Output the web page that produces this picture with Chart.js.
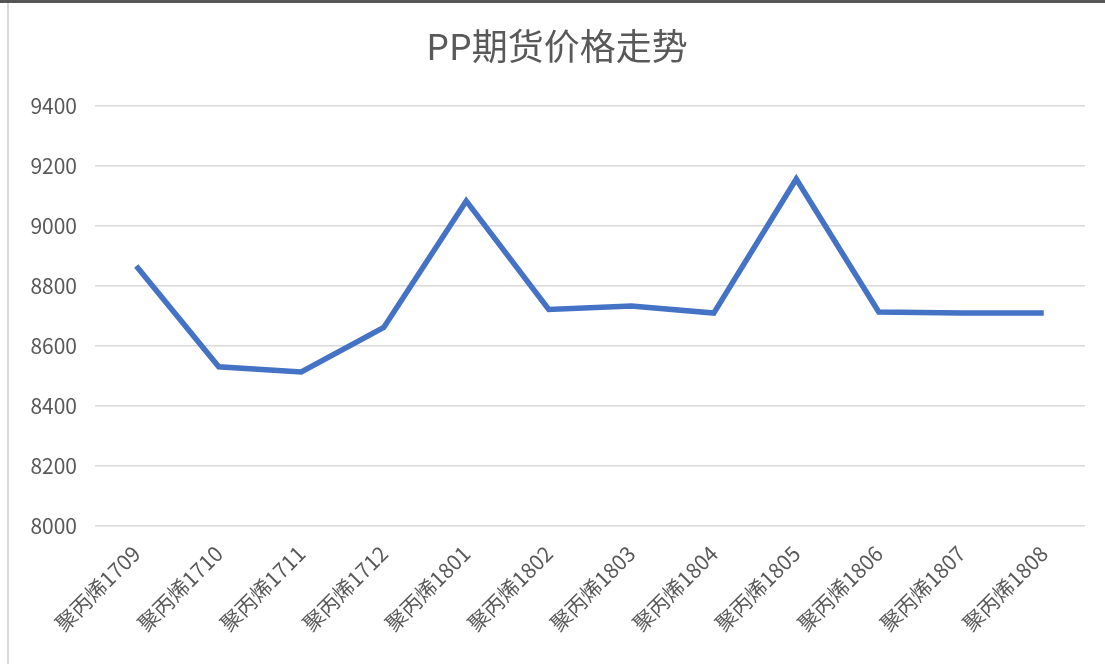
<!DOCTYPE html>
<html lang="zh">
<head>
  <meta charset="UTF-8">
  <title>PP期货价格走势</title>
  <script src="https://cdn.jsdelivr.net/npm/chart.js"></script>
  <style>
    html, body { margin: 0; padding: 0; background: #fff; }
    .frame {
      position: absolute; left: 0; top: 0; width: 1105px; height: 664px;
      border-top: 3px solid #555; box-sizing: border-box;
    }
    .edge {
      position: absolute; left: 7px; top: 3px; width: 2px; height: 661px; background: #d9d9d9;
    }
    .chart-box {
      position: absolute; left: 9px; top: 3px; width: 1096px; height: 661px;
    }
  </style>
</head>
<body>
  <div class="frame"></div>
  <div class="edge"></div>
  <div class="chart-box"><canvas id="ppChart"></canvas></div>

  <script>
    const contracts = ['聚丙烯1709', '聚丙烯1710', '聚丙烯1711', '聚丙烯1712', '聚丙烯1801', '聚丙烯1802',
                       '聚丙烯1803', '聚丙烯1804', '聚丙烯1805', '聚丙烯1806', '聚丙烯1807', '聚丙烯1808'];
    const prices = [8867, 8531, 8514, 8662, 9084, 8722, 8734, 8710, 9157, 8714, 8710, 8710];
    const yMin = 8000, yMax = 9400, yStep = 200;

    const textColor = '#595959';
    const fontFamily = '"Noto Sans CJK SC", "Noto Sans", sans-serif';

    const ctx = document.getElementById('ppChart').getContext('2d');
    new Chart(ctx, {
      type: 'line',
      data: {
        labels: contracts,
        datasets: [{
          label: 'PP',
          data: prices,
          borderColor: '#4472C4',
          borderWidth: 5.5,
          pointRadius: 0,
          tension: 0,
          fill: false
        }]
      },
      options: {
        responsive: true,
        maintainAspectRatio: false,
        animation: false,
        layout: { padding: 0 },
        plugins: {
          legend: { display: false },
          tooltip: { enabled: false },
          title: {
            display: true,
            text: 'PP期货价格走势',
            color: textColor,
            font: { family: fontFamily, size: 36, weight: 'normal' },
            padding: { top: 22, bottom: 38 }
          }
        },
        scales: {
          x: {
            offset: true,
            grid: { display: false },
            border: { display: false },
            ticks: {
              color: textColor,
              font: { family: fontFamily, size: 21 },
              maxRotation: 45,
              minRotation: 45,
              padding: 7
            },
            afterFit: (axis) => { axis.height = 138; }
          },
          y: {
            min: yMin,
            max: yMax,
            grid: { color: '#d9d9d9', lineWidth: 1.5, drawTicks: false },
            border: { display: false },
            ticks: {
              stepSize: yStep,
              color: textColor,
              font: { family: fontFamily, size: 21 },
              padding: 18,
              callback: (v) => String(v)
            },
            afterFit: (axis) => { axis.width = 86; }
          },
          // empty right margin so the title stays centred on the whole frame
          yRight: {
            position: 'right',
            grid: { display: false },
            border: { display: false },
            ticks: { display: false },
            afterFit: (axis) => { axis.width = 20; }
          }
        }
      }
    });
  </script>
</body>
</html>
